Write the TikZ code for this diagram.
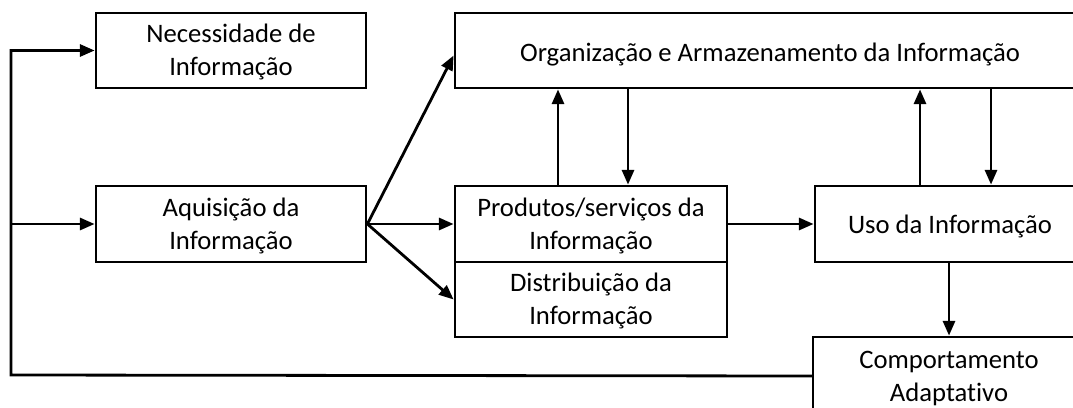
\documentclass[tikz,border=0pt]{standalone}
\usepackage{fontspec}
\setmainfont{Carlito}[Ligatures=NoCommon]
\usetikzlibrary{arrows.meta, positioning, calc}

\begin{document}
\begin{tikzpicture}[x=0.75pt, y=-0.75pt,
    box/.style={draw, line width=2.1pt, align=center, inner sep=0pt,
      font=\fontsize{20pt}{25pt}\selectfont},
    two/.style={text height=41pt, text depth=3pt},
    arr/.style={line width=2.1pt, -{Triangle[length=11pt,width=9pt]}},
    ln/.style={line width=2.1pt}]
  %tikz  fluxo da informacao
    \useasboundingbox (0,0) rectangle (1073,407);
    \clip (0,0) rectangle (1073,407);

    \node[box, two, minimum width=202.5pt, minimum height=56.25pt] (nec) at (231,50.5) {Necessidade de\\Informação};
    \node[box, two, minimum width=202.5pt, minimum height=57pt] (acq) at (231,224) {Aquisição da\\Informação};
    \node[box, text height=21pt, text depth=4pt, minimum width=472.5pt, minimum height=56.25pt] (org) at (770,50.5) {Organização e Armazenamento da Informação};
    \node[box, two, minimum width=204pt, minimum height=57pt] (prod) at (591,224) {Produtos/serviços da\\Informação};
    \node[box, two, minimum width=204pt, minimum height=56.25pt, below=-2.1pt of prod] (dist) {Distribuição da\\Informação};
    \node[box, text height=18pt, text depth=4pt, minimum width=202.5pt, minimum height=57pt] (uso) at (950,224) {Uso da Informação};
    \node[box, two, minimum width=204pt, minimum height=58.5pt] (comp) at (949,376) {Comportamento\\Adaptativo};

    % saidas da aquisicao
    \draw[arr] (acq.east) -- ($(org.west)+(0,5)$);
    \draw[arr] (acq.east) -- (prod.west);
    \draw[arr] (acq.east) -- (dist.west);

    % ida e volta com a organizacao
    \coordinate (p1) at ($(prod.north)+(-33,0)$);
    \coordinate (p2) at ($(prod.north)+(37,0)$);
    \coordinate (u1) at ($(uso.north)+(-30,0)$);
    \coordinate (u2) at ($(uso.north)+(41,0)$);
    \draw[arr] (p1) -- (p1 |- org.south);
    \draw[arr] (p2 |- org.south) -- (p2);
    \draw[arr] (u1) -- (u1 |- org.south);
    \draw[arr] (u2 |- org.south) -- (u2);

    \draw[arr] (prod.east) -- (uso.west);
    \draw[arr] (uso.south -| comp.north) -- (comp.north);

    % retorno
    \coordinate (loop) at (11,375);
    \draw[ln, line cap=rect] (comp.west) -- (loop) -- (loop |- nec.west);
    \draw[arr] (loop |- nec.west) -- (nec.west);
    \draw[arr] (loop |- acq.west) -- (acq.west);
  \end{tikzpicture}
\end{document}
